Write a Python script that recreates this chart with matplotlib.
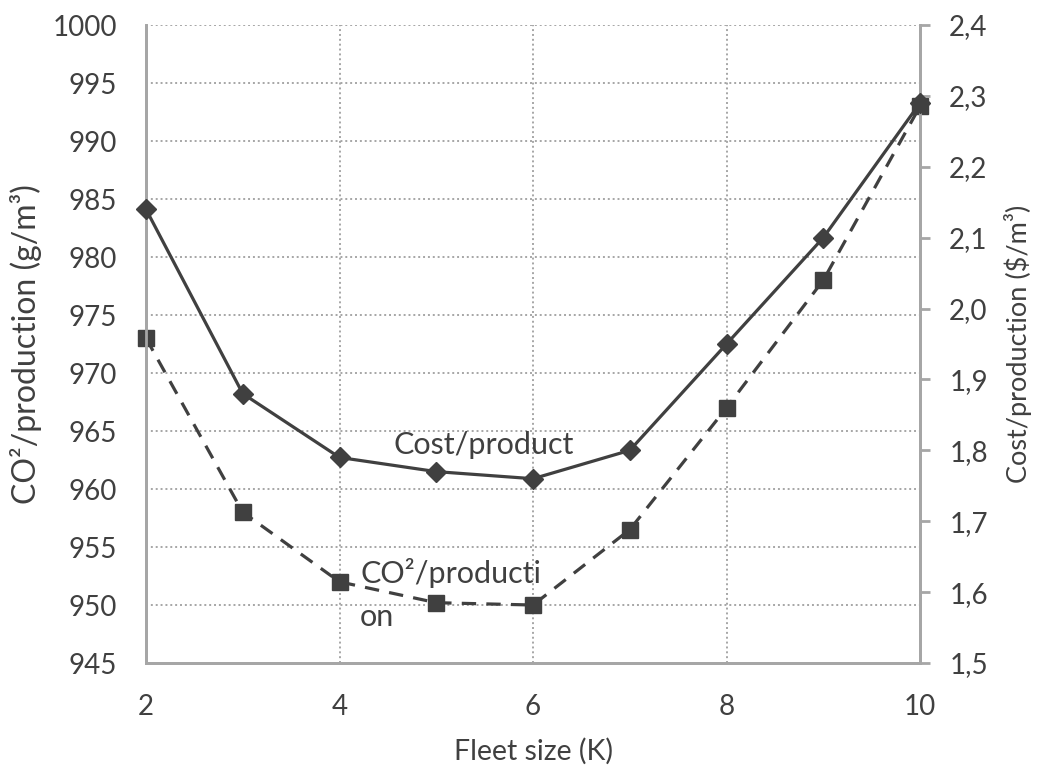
import matplotlib
matplotlib.use("Agg")
from matplotlib import pyplot as plt

# === DATA ===
fleet_size = [2, 3, 4, 5, 6, 7, 8, 9, 10]
co2_per_prod = [973.0, 958.0, 952.0, 950.2, 950.0, 956.5, 967.0, 978.0, 993.0]
cost_per_prod = [2.14, 1.88, 1.79, 1.77, 1.76, 1.80, 1.95, 2.10, 2.29]

x_ticks = [2, 4, 6, 8, 10]
left_ticks = list(range(945, 1001, 5))
right_ticks = [1.5, 1.6, 1.7, 1.8, 1.9, 2.0, 2.1, 2.2, 2.3, 2.4]
right_labels = [("%.1f" % v).replace(".", ",") for v in right_ticks]

# === STYLE ===
plt.rcParams['font.family'] = ['Lato', 'DejaVu Sans']
txt_col = "#404040"
line_col = "#404040"
axis_col = "#a6a6a6"
fs = 20

fig = plt.figure(figsize=(10.37, 7.65), dpi=100)
ax = fig.add_axes([0.1408, 0.1333, 0.8872 - 0.1408, 0.9673 - 0.1333])
ax2 = ax.twinx()

# CO2 series on the left axis (dashed, squares)
ax.plot(fleet_size, co2_per_prod, color=line_col, lw=2.3, dashes=(4.5, 3.2),
        marker="s", markersize=11, zorder=3, clip_on=False)
# cost series on the right axis (solid, diamonds)
ax2.plot(fleet_size, cost_per_prod, color=line_col, lw=2.3,
         marker="D", markersize=10, zorder=3, clip_on=False)

ax.set_xlim(2, 10)
ax.set_ylim(945, 1000)
ax2.set_ylim(1.5, 2.4)

ax.set_xticks(x_ticks)
ax.set_yticks(left_ticks)
ax2.set_yticks(right_ticks)
ax2.set_yticklabels(right_labels)

ax.grid(True, color=axis_col, linestyle=(0, (1, 1.5)), lw=1.4)
ax.set_axisbelow(True)

for a in (ax, ax2):
    a.spines['top'].set_visible(False)
    for s in ('left', 'right', 'bottom'):
        a.spines[s].set_color(axis_col)
        a.spines[s].set_linewidth(2)

ax.tick_params(axis='x', length=0, pad=22, labelsize=fs, labelcolor=txt_col)
ax.tick_params(axis='y', length=0, pad=21, labelsize=fs, labelcolor=txt_col)
ax2.tick_params(axis='y', length=7, width=2, color=axis_col, pad=14,
                labelsize=fs, labelcolor=txt_col)

ax.set_xlabel("Fleet size (K)", fontsize=20.5, color=txt_col)
ax.xaxis.set_label_coords(0.5, -0.1176)
ax.set_ylabel("CO²/production (g/m³)", fontsize=23, color=txt_col)
ax.yaxis.set_label_coords(-0.1344, 0.5)
ax2.set_ylabel("Cost/production ($/m³)", fontsize=19.5, color=txt_col)
ax2.yaxis.set_label_coords(1.108, 0.5)

# inline series labels
ax.text(4.553, 963.8, "Cost/product", fontsize=22, color=txt_col,
        ha="left", va="center", zorder=4)
ax.text(4.212, 950.9, "CO²/producti\non", fontsize=22, color=txt_col,
        ha="left", va="center", linespacing=1.68, zorder=4)

fig.savefig("out.png", dpi=100)
